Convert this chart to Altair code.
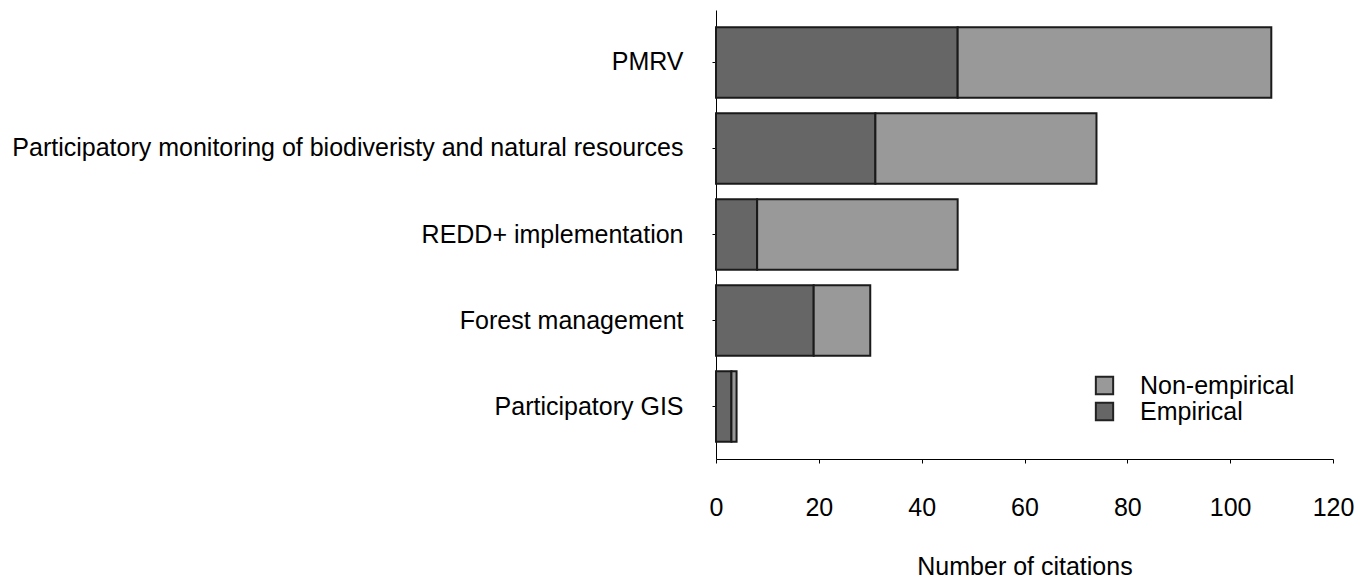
import altair as alt
import pandas as pd

categories = [
    "PMRV",
    "Participatory monitoring of biodiveristy and natural resources",
    "REDD+ implementation",
    "Forest management",
    "Participatory GIS",
]
empirical = [47, 31, 8, 19, 3]
non_empirical = [61, 43, 39, 11, 1]
x_ticks = [0, 20, 40, 60, 80, 100, 120]

rows = []
for c, e, n in zip(categories, empirical, non_empirical):
    rows.append({"category": c, "type": "Empirical", "value": e, "ord": 0})
    rows.append({"category": c, "type": "Non-empirical", "value": n, "ord": 1})
df = pd.DataFrame(rows)

FONT = "Liberation Sans"
FS = 25

chart = alt.Chart(df).mark_bar(stroke="#1a1a1a", strokeWidth=2).encode(
    y=alt.Y("category:N", sort=categories, title=None,
            scale=alt.Scale(paddingInner=0.18, paddingOuter=0.2),
            axis=alt.Axis(labelFontSize=FS, labelFont=FONT, labelColor="#000",
                          labelPadding=29, tickSize=4, tickColor="#000",
                          domainColor="#000", labelLimit=900)),
    x=alt.X("value:Q", title="Number of citations",
            scale=alt.Scale(domain=[0, 120], nice=False),
            axis=alt.Axis(values=x_ticks, grid=False, labelFontSize=FS, labelFont=FONT,
                          labelColor="#000", tickSize=4, tickColor="#000",
                          domainColor="#000", labelPadding=32, labelFlush=False,
                          titleFontSize=FS, titleFont=FONT, titleFontWeight="normal",
                          titleColor="#000", titlePadding=34)),
    color=alt.Color("type:N",
                    scale=alt.Scale(domain=["Non-empirical", "Empirical"],
                                    range=["#999999", "#666666"]),
                    legend=alt.Legend(title=None, orient="none", legendX=376, legendY=363,
                                      symbolType="square", symbolSize=300,
                                      symbolStrokeColor="#222", symbolStrokeWidth=2,
                                      labelFontSize=FS, labelFont=FONT, labelColor="#000",
                                      labelOffset=23, rowPadding=-8)),
    order=alt.Order("ord:Q", sort="ascending"),
).properties(
    width=617, height=449,
    padding={"top": 2, "left": 3, "right": 5, "bottom": 0},
).configure_view(stroke=None)

chart.save("out.html", embed_options={"renderer": "svg", "actions": False})
